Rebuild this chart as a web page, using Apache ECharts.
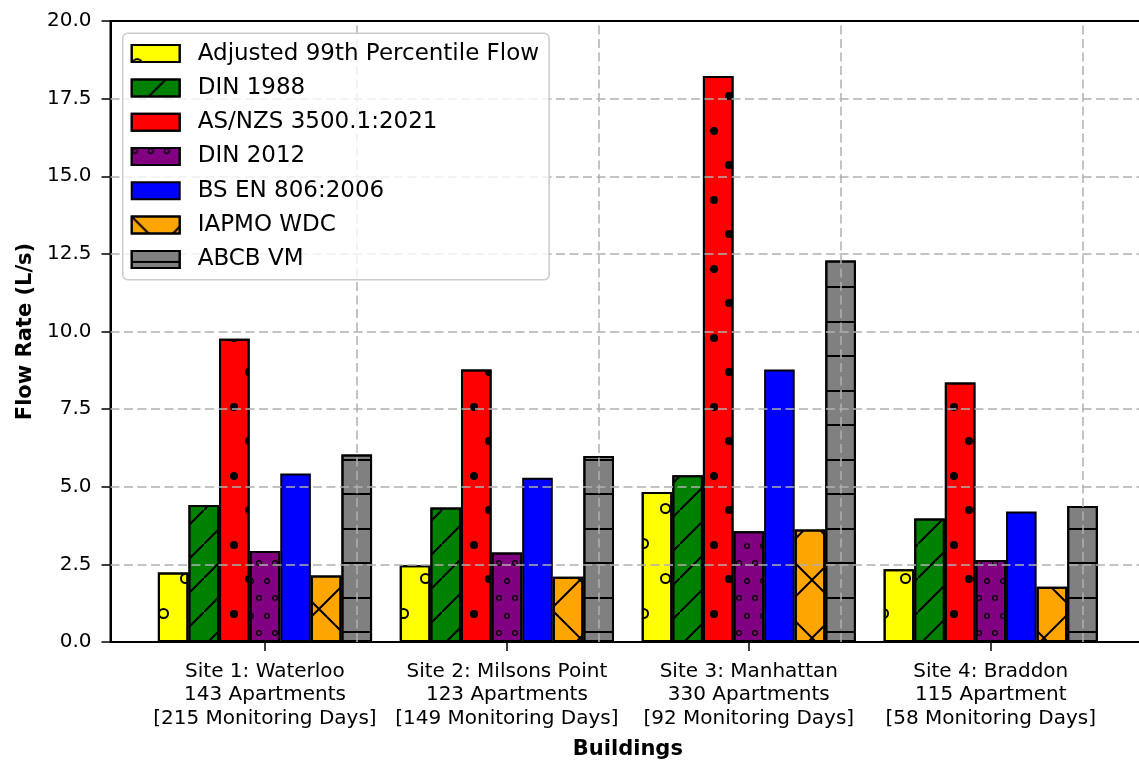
<!DOCTYPE html>
<html><head><meta charset="utf-8">
<script src="https://cdn.jsdelivr.net/npm/echarts@6/dist/echarts.min.js"></script>
<style>html,body{margin:0;padding:0;background:#fff}#c{width:1139px;height:760px}</style>
</head><body><div id="c"></div>
<script>
// ---------------- data ----------------
const categories = [
  'Site 1: Waterloo\n143 Apartments\n[215 Monitoring Days]',
  'Site 2: Milsons Point\n123 Apartments\n[149 Monitoring Days]',
  'Site 3: Manhattan\n330 Apartments\n[92 Monitoring Days]',
  'Site 4: Braddon\n115 Apartment\n[58 Monitoring Days]'
];
const seriesNames = ['Adjusted 99th Percentile Flow', 'DIN 1988', 'AS/NZS 3500.1:2021', 'DIN 2012', 'BS EN 806:2006', 'IAPMO WDC', 'ABCB VM'];
const adjusted99 = [2.24, 2.47, 4.83, 2.34];
const din1988    = [4.41, 4.33, 5.37, 3.98];
const asnzs      = [9.77, 8.78, 18.23, 8.36];
const din2012    = [2.93, 2.88, 3.57, 2.64];
const bsen       = [5.43, 5.29, 8.78, 4.20];
const iapmo      = [2.14, 2.10, 3.62, 1.78];
const abcb       = [6.04, 5.99, 12.29, 4.38];
const yTicks = [0, 2.5, 5, 7.5, 10, 12.5, 15, 17.5, 20];
const xTitle = 'Buildings';
const yTitle = 'Flow Rate (L/s)';

// ---------------- styles ----------------
const FONT = 'DejaVu Sans';
const yMin = yTicks[0], yMax = yTicks[yTicks.length - 1], yStep = yTicks[1] - yTicks[0];
const seriesValues = [adjusted99, din1988, asnzs, din2012, bsen, iapmo, abcb];
const colors = ['#ffff00', '#008000', '#ff0000', '#800080', '#0000ff', '#ffa500', '#808080'];
const ringBig = 'path://M0,10A10,10,0,1,1,20,10A10,10,0,1,1,0,10ZM3.5,10A6.5,6.5,0,1,0,16.5,10A6.5,6.5,0,1,0,3.5,10Z';
const ringSmall = 'path://M0,10A10,10,0,1,1,20,10A10,10,0,1,1,0,10ZM4,10A6,6,0,1,0,16,10A6,6,0,1,0,4,10Z';
const slashTile = 'path://M0,0L0,0.01L0,32.6L32.6,0L34,0L34,1.4L1.4,34L0,34Z';
const xTile = 'path://M0,0L1.4,0L58,56.6L58,58L56.6,58L0,1.4Z M56.6,0L58,0L58,1.4L1.4,58L0,58L0,56.6Z';
const decals = [
  { symbol: ringBig, symbolSize: 1, color: '#000', dashArrayX: [[0, 60], [11, 49], [0, 38, 11, 11]], dashArrayY: [0, 13, 11, 24, 11, 11] },
  { symbol: slashTile, symbolSize: 1, color: '#000', dashArrayX: [[34, 0]], dashArrayY: [34, 0] },
  { symbol: 'circle', symbolSize: 1, color: '#000', dashArrayX: [[0, 60], [0, 5, 8, 47], [0, 50, 8, 2]], dashArrayY: [0, 23, 8, 27, 8, 3] },
  { symbol: ringSmall, symbolSize: 1, color: '#000', dashArrayX: [[6, 10], [0, 8, 6, 2]], dashArrayY: [6, 12, 6, 11] },
  null,
  { symbol: xTile, symbolSize: 1, color: '#000', dashArrayX: [[58, 0]], dashArrayY: [58, 0] },
  { symbol: 'rect', symbolSize: 1, color: '#000', dashArrayX: [[10, 0]], dashArrayY: [0, 10, 2, 33, 2, 22] }
];
const gridLine = { color: '#b0b0b0', width: 1.5, type: [9, 4.5] };

const series = seriesNames.map((name, i) => {
  const s = {
    type: 'bar', name: name, xAxisIndex: 0, yAxisIndex: 0,
    data: seriesValues[i], barWidth: 30.6, barGap: '0%', z: 2,
    itemStyle: { color: colors[i], borderColor: '#000', borderWidth: 2 }
  };
  if (decals[i]) s.itemStyle.decal = decals[i];
  return s;
});
// vertical grid lines at the category centres
series[series.length - 1].markLine = {
  silent: true, symbol: 'none', z: 5, animation: false,
  label: { show: false }, lineStyle: gridLine,
  data: categories.map(c => ({ xAxis: c }))
};
// horizontal grid lines across the whole frame (drawn above the bars, like matplotlib)
series.push({
  type: 'line', name: '_grid', xAxisIndex: 1, yAxisIndex: 1, data: [], silent: true,
  markLine: {
    silent: true, symbol: 'none', z: 5, animation: false,
    label: { show: false }, lineStyle: gridLine,
    data: yTicks.slice(1, -1).map(v => ({ yAxis: v }))
  }
});

const chart = echarts.init(document.getElementById('c'), null, { renderer: 'canvas' });
chart.setOption({
  animation: false,
  backgroundColor: '#fff',
  textStyle: { fontFamily: FONT },
  grid: [
    { left: 144, right: 27.3, top: 21, bottom: 118, containLabel: false, outerBoundsMode: 'none' },
    { left: 110.5, right: -20, top: 21, bottom: 118, containLabel: false, outerBoundsMode: 'none',
      show: true, borderColor: '#000', borderWidth: 2, backgroundColor: 'transparent' }
  ],
  xAxis: [
    { type: 'category', gridIndex: 0, data: categories,
      axisLine: { show: false },
      axisTick: { show: true, alignWithLabel: true, length: 9, lineStyle: { color: '#000', width: 1.5 } },
      axisLabel: { fontSize: 20, lineHeight: 23.5, color: '#000', margin: 18, fontFamily: FONT, interval: 0 },
      splitLine: { show: false },
      name: xTitle, nameLocation: 'middle', nameGap: 97,
      nameTextStyle: { fontSize: 21, fontWeight: 'bold', color: '#000', fontFamily: FONT }
    },
    { type: 'value', gridIndex: 1, min: 0, max: 1, show: false }
  ],
  yAxis: [
    { type: 'value', gridIndex: 0, min: yMin, max: yMax, interval: yStep, show: false },
    { type: 'value', gridIndex: 1, min: yMin, max: yMax, interval: yStep, z: 3,
      axisLine: { show: true, lineStyle: { color: '#000', width: 2 } },
      axisTick: { show: true, length: 9, lineStyle: { color: '#000', width: 1.5 } },
      axisLabel: { fontSize: 20, color: '#000', margin: 19, fontFamily: FONT, formatter: v => v.toFixed(1) },
      splitLine: { show: false },
      name: yTitle, nameLocation: 'middle', nameGap: 66,
      nameTextStyle: { fontSize: 21, fontWeight: 'bold', color: '#000', fontFamily: FONT }
    }
  ],
  legend: {
    data: seriesNames, orient: 'vertical', left: 122.7, top: 33.3, z: 10,
    icon: 'rect', itemWidth: 48, itemHeight: 17, itemGap: 11.3,
    padding: [8.8, 10, 8.8, 8],
    backgroundColor: 'rgba(255,255,255,0.8)', borderColor: '#cccccc', borderWidth: 1.5, borderRadius: 5,
    textStyle: { fontSize: 23, lineHeight: 22, color: '#000', fontFamily: FONT, padding: [0, 0, 0, 13] },
    selectedMode: false
  },
  series: series
});
</script>
</body></html>
